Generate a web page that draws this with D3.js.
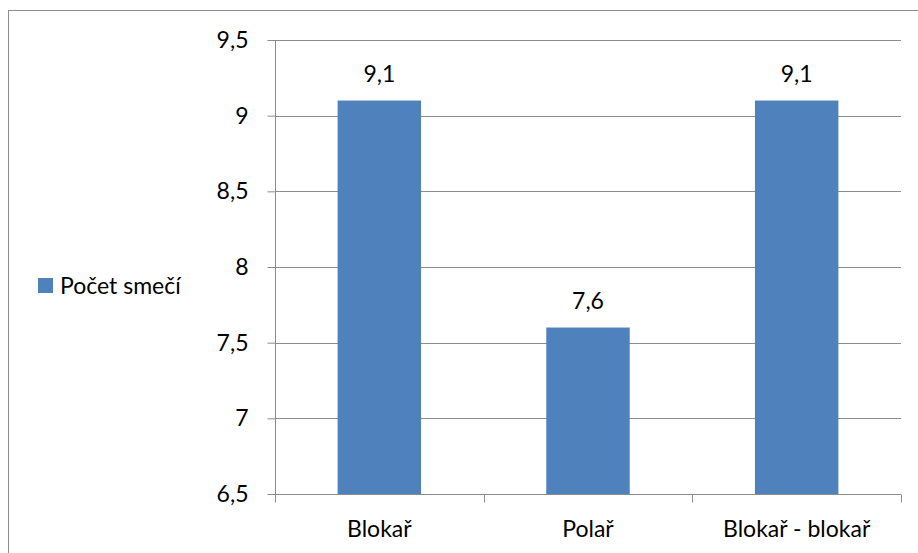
<!DOCTYPE html>
<html>
<head>
<meta charset="utf-8">
<script src="https://cdn.jsdelivr.net/npm/d3@7"></script>
<style>
  html, body { margin: 0; padding: 0; background: #fff; }
  svg { display: block; }
  text { font-family: Lato, "Open Sans", sans-serif; fill: #000; }
</style>
</head>
<body>
<script>
// Počet smečí podle typu hráče
const categories = ["Blokař", "Polař", "Blokař - blokař"];
const values = [9.1, 7.6, 9.1];
const valueLabels = ["9,1", "7,6", "9,1"];
const yTicks = [6.5, 7, 7.5, 8, 8.5, 9, 9.5];
const yTickLabels = ["6,5", "7", "7,5", "8", "8,5", "9", "9,5"];
const seriesName = "Počet smečí";

const W = 918, H = 553;
const plot = { left: 275, right: 901, top: 40, bottom: 494 };
const barColor = "#4F81BD";
const lineColor = "#8C8C8C";
const fontSize = "23px";

const svg = d3.select("body").append("svg").attr("width", W).attr("height", H);

// outer chart frame
svg.append("rect")
  .attr("x", 8.5).attr("y", 10.5)
  .attr("width", W).attr("height", H)
  .attr("fill", "none").attr("stroke", "#8C8C8C").attr("stroke-width", 1);

const x = d3.scaleBand().domain(categories).range([plot.left, plot.right]).paddingInner(0).paddingOuter(0);
const y = d3.scaleLinear().domain([6.5, 9.5]).range([plot.bottom, plot.top]);

// horizontal gridlines
svg.append("g").selectAll("line")
  .data(yTicks.slice(1))
  .join("line")
  .attr("x1", plot.left).attr("x2", plot.right)
  .attr("y1", d => Math.round(y(d)) + 0.5).attr("y2", d => Math.round(y(d)) + 0.5)
  .attr("stroke", lineColor).attr("stroke-width", 1);

// bars
const bw = x.bandwidth() * 0.4;
svg.append("g").selectAll("rect")
  .data(values)
  .join("rect")
  .attr("x", (d, i) => x(categories[i]) + (x.bandwidth() - bw) / 2)
  .attr("y", d => y(d))
  .attr("width", bw)
  .attr("height", d => y(6.5) - y(d))
  .attr("fill", barColor);

// y axis
const yAxis = d3.axisLeft(y).tickValues(yTicks)
  .tickFormat((d, i) => yTickLabels[i]).tickSize(8).tickPadding(19);
const gy = svg.append("g").attr("transform", `translate(${plot.left + 0.5},0)`).call(yAxis);
gy.select(".domain").attr("stroke", lineColor).attr("d", `M0,${plot.top}V${plot.bottom}`);
gy.selectAll(".tick line").attr("stroke", lineColor);
gy.selectAll(".tick text").style("font-size", fontSize).attr("fill", "#000");

// x axis
const xAxis = d3.axisBottom(x).tickSize(0).tickPadding(0);
const gx = svg.append("g").attr("transform", `translate(0,${plot.bottom + 0.5})`).call(xAxis);
gx.select(".domain").attr("stroke", lineColor).attr("d", `M${plot.left},0H${plot.right}`);
gx.selectAll(".tick text").style("font-size", fontSize).attr("fill", "#000")
  .attr("y", 42.5).attr("dy", null);
// category boundary ticks
const bounds = categories.map(c => x(c)).concat([plot.right]);
gx.append("g").selectAll("line")
  .data(bounds)
  .join("line")
  .attr("x1", d => Math.round(d) + 0.5).attr("x2", d => Math.round(d) + 0.5)
  .attr("y1", 0).attr("y2", 8)
  .attr("stroke", lineColor);

// value labels
svg.append("g").selectAll("text")
  .data(values)
  .join("text")
  .attr("x", (d, i) => x(categories[i]) + x.bandwidth() / 2)
  .attr("y", d => y(d) - 18.5)
  .attr("text-anchor", "middle")
  .style("font-size", fontSize)
  .text((d, i) => valueLabels[i]);

// legend
const lg = svg.append("g").attr("transform", "translate(38,278)");
lg.append("rect").attr("width", 15).attr("height", 15).attr("fill", barColor);
lg.append("text").attr("x", 22).attr("y", 15.5)
  .style("font-size", fontSize).text(seriesName);
</script>
</body>
</html>
